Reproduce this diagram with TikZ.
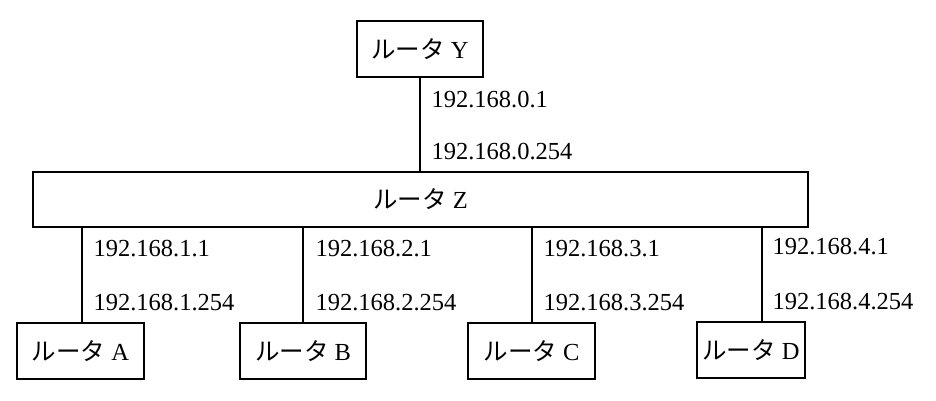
\documentclass[tikz,border=0pt]{standalone}
\usepackage{fontspec}
\setmainfont{Liberation Serif}
\newfontfamily\jp{Noto Sans CJK JP}
\begin{document}
\begin{tikzpicture}[x=1pt, y=1pt, every node/.style={rectangle}, text centered, line width=1.2pt,
	router/.style={draw, minimum height=56pt, font=\fontsize{24.5}{28}\selectfont},
	addr/.style={anchor=west, inner sep=0pt, font=\fontsize{24.5}{28}\selectfont}]
	\useasboundingbox (0,0) rectangle (936,400);
	% routers
	\node[router, minimum width=126pt] (routerY) at (420, 351) {{\jp ルータ} Y};
	\node[router, minimum width=775pt, minimum height=55pt] (routerZ) at (420.5, 200.5) {{\jp ルータ} Z};
	\node[router, minimum width=127pt] (routerA) at (80.5, 49) {{\jp ルータ} A};
	\node[router, minimum width=126pt] (routerB) at (303, 49) {{\jp ルータ} B};
	\node[router, minimum width=127pt] (routerC) at (531.5, 49) {{\jp ルータ} C};
	\node[router, minimum width=108pt] (routerD) at (751, 50) {{\jp ルータ} D};
	% ports on the bottom of router Z
	\coordinate (portA) at (82, 173);
	\coordinate (portB) at (303, 173);
	\coordinate (portC) at (532, 173);
	\coordinate (portD) at (762, 173);
	% links
	\draw (routerY.south) -- (routerY.south |- routerZ.north);
	\draw (portA) -- (portA |- routerA.north);
	\draw (portB) -- (portB |- routerB.north);
	\draw (portC) -- (portC |- routerC.north);
	\draw (portD) -- (portD |- routerD.north);
	% addresses
	\node[addr] (addrY) at (431, 300) {192.168.0.1};
	\node[addr] (addrZY) at (431, 248) {192.168.0.254};
	\node[addr] (addrZA) at (93, 151) {192.168.1.1};
	\node[addr] (addrA) at (93, 97) {192.168.1.254};
	\node[addr] (addrZB) at (315, 151) {192.168.2.1};
	\node[addr] (addrB) at (315, 97) {192.168.2.254};
	\node[addr] (addrZC) at (543, 151) {192.168.3.1};
	\node[addr] (addrC) at (543, 97) {192.168.3.254};
	\node[addr] (addrZD) at (772, 153) {192.168.4.1};
	\node[addr] (addrD) at (772, 98) {192.168.4.254};
\end{tikzpicture}
\end{document}
